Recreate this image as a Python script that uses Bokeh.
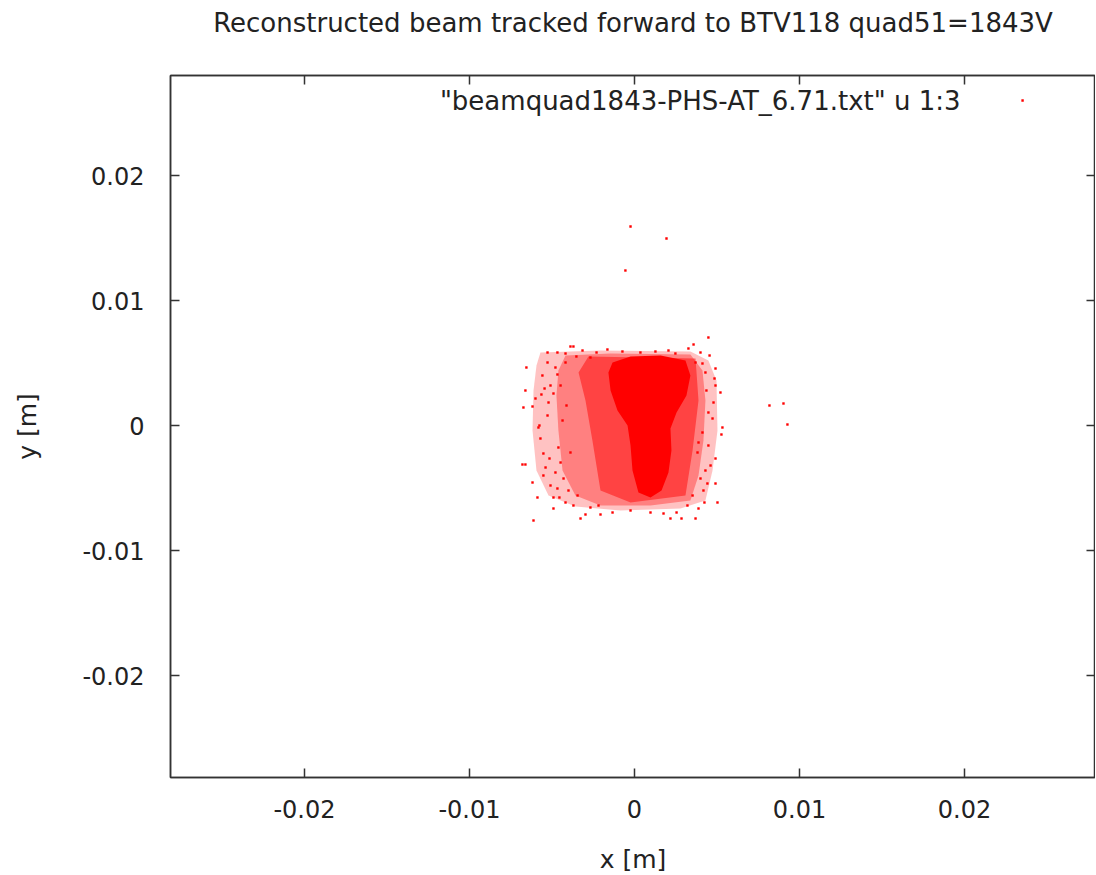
from bokeh.plotting import figure
from bokeh.models import (Range1d, LinearAxis, FixedTicker, CustomJSTickFormatter,
                          ColumnDataSource, Label)
from bokeh.embed import file_html
from bokeh.resources import INLINE

# ---------------- data (metres) ----------------
# individually visible particles (halo and outliers)
halo_x = [-0.00024, 0.00194, -0.00055, 0.00818, 0.00903, 0.00927, 0.00448, 0.00358, 0.00327, 0.00206,
          0.00248, -0.00388, -0.0037, -0.00527, -0.00467, -0.00418, -0.00655, -0.00558, -0.00661, -0.006,
          -0.00564, -0.00673, -0.00618, -0.00545, -0.00576, -0.00527, -0.00521, -0.00491, -0.00527, -0.00479,
          -0.00509, -0.00467, -0.00582, -0.00679, -0.00661, -0.00618, -0.00588, -0.00612, -0.00552, -0.00509,
          -0.00491, -0.00455, -0.0037, -0.00327, -0.00297, -0.00267, -0.00206, -0.00218, -0.00515, -0.00539,
          -0.00479, -0.00448, -0.0057, -0.0043, -0.004, 0.00533, 0.00527, 0.00491, 0.0043, 0.00491,
          0.00442, 0.00424, 0.00503, 0.0037, 0.00285, 0.00218, 0.00176, 0.004, 0.00382, 0.00388,
          0.00412, 0.00352, 0.00321, 0.00491, 0.00485, 0.00521, 0.00479, 0.0043, 0.00412, 0.0037,
          0.00448, 0.00491, 0.00473, -0.00315, -0.0023, -0.00164, -0.00073, 0.00036, 0.00127,
          -0.00461, -0.00388, -0.00552, -0.00467, -0.00345, -0.00418, -0.00491, -0.00436, -0.00412, -0.00448,
          -0.00418, -0.00352, -0.00267, 0.00448, 0.00461, 0.00418, 0.00388, 0.00255, 0.00097, -0.00024,
          -0.00133, 0.00436, 0.00455, 0.004]
halo_y = [0.01592, 0.01496, 0.0124, 0.0016, 0.00176, 0.00008, 0.00704, 0.00648, 0.00616, 0.006,
          0.00576, 0.00632, 0.00632, 0.00584, 0.00584, 0.00576, 0.00464, 0.004, 0.0028, 0.00216,
          0.00248, 0.00144, 0.00152, 0.00296, 0.0, 0.0008, 0.00184, 0.00256, 0.00504, 0.00464,
          0.0032, 0.00408, -0.00016, -0.00312, -0.00312, -0.00456, -0.00576, -0.0076, -0.00224, -0.0048,
          -0.00576, -0.00576, -0.0064, -0.00744, -0.00712, -0.00656, -0.00712, -0.0064, -0.00264, -0.00336,
          -0.00376, -0.00296, -0.00104, -0.00424, -0.0052, -0.00016, -0.00072, -0.00264, -0.0036, -0.00464,
          -0.00464, -0.00616, -0.00616, -0.00744, -0.00744, -0.00744, -0.00704, -0.00424, -0.00216, -0.00136,
          -0.00056, -0.0056, -0.0064, 0.00456, 0.00376, 0.00264, 0.00184, 0.00424, 0.00496, 0.00504,
          0.00104, 0.0032, 0.00056, 0.006, 0.00584, 0.00608, 0.00592, 0.00584, 0.00592,
          -0.00176, -0.00216, -0.004, -0.00504, -0.0056, -0.00616, -0.00664, 0.0004, 0.0016, 0.0032,
          0.00504, 0.00552, 0.00544, -0.0016, -0.0032, -0.0052, -0.00664, -0.00696, -0.00696, -0.0068,
          -0.00696, 0.0028, 0.0056, 0.00584]

# outline of the sparse outer cloud
outer_x = [-0.0057, -0.00206, 0.00339, 0.00448, 0.00497, 0.00503, 0.00473, 0.0043, 0.00279, -0.00085,
           -0.00358, -0.00521, -0.00594, -0.00618, -0.00612, -0.00594]
outer_y = [0.00584, 0.006, 0.00592, 0.0052, 0.0036, -0.0004, -0.0036, -0.006, -0.00664, -0.0068,
           -0.00648, -0.0056, -0.0036, -0.0004, 0.0028, 0.0048]
# outline of the medium-density cloud
mid_x = [-0.00418, -0.00145, 0.00339, 0.00412, 0.0043, 0.00418, 0.00388, 0.00339, 0.00097, -0.00206,
         -0.00358, -0.00436, -0.00461, -0.00473, -0.00461]
mid_y = [0.0056, 0.00576, 0.00568, 0.0044, 0.002, -0.0012, -0.004, -0.006, -0.0064, -0.0064,
         -0.0056, -0.0036, -0.0004, 0.0024, 0.0044]
# outline of the dense cloud
dense_x = [-0.00279, 0.0037, 0.00388, 0.00352, 0.00309, -0.00024, -0.00206, -0.00255, -0.00297, -0.00339]
dense_y = [0.00552, 0.00536, 0.002, -0.002, -0.0056, -0.00616, -0.0052, -0.0012, 0.002, 0.00424]
# outline of the saturated core
core_x = [-0.00133, -0.00024, 0.00158, 0.00309, 0.00339, 0.00315, 0.00255, 0.00218, 0.00224, 0.00206,
          0.00164, 0.00097, 0.00024, -0.00012, -0.00024, -0.00042, -0.00103, -0.00145, -0.00158]
core_y = [0.00504, 0.00552, 0.0056, 0.0052, 0.004, 0.0024, 0.00104, -0.00024, -0.002, -0.00376,
          -0.0052, -0.00576, -0.00536, -0.0036, -0.0016, 0.0, 0.0012, 0.0028, 0.00424]

x_ticks = [-0.02, -0.01, 0.0, 0.01, 0.02]
y_ticks = [-0.02, -0.01, 0.0, 0.01, 0.02]

title_text = "Reconstructed beam tracked forward to BTV118 quad51=1843V"
legend_text = '"beamquad1843-PHS-AT_6.71.txt" u 1:3'
x_label = "x [m]"
y_label = "y [m]"

# ---------------- styling ----------------
RED = "#ff0000"
INK = "#222222"
FRAME = "#333333"
FONT = "DejaVu Sans"
TICK_FS = "24px"

XMIN, XMAX = -0.02812, 0.02794
YMIN, YMAX = -0.02816, 0.028

p = figure(width=1096, height=875, frame_width=925, frame_height=702,
           x_range=Range1d(XMIN, XMAX), y_range=Range1d(YMIN, YMAX),
           output_backend="svg", toolbar_location=None,
           min_border_left=170, min_border_right=0, min_border_top=75, min_border_bottom=98,
           x_axis_label=x_label, y_axis_label=y_label)
p.background_fill_color = "white"
p.border_fill_color = "white"
p.grid.visible = False
p.outline_line_color = FRAME
p.outline_line_width = 1.5
p.title.visible = False

fmt = CustomJSTickFormatter(code="return tick == 0 ? '0' : tick.toFixed(2);")
blank = CustomJSTickFormatter(code="return '';")

def style_axis(ax, labels=True):
    ax.axis_line_color = FRAME
    ax.axis_line_width = 1.5
    ax.major_tick_line_color = FRAME
    ax.major_tick_line_width = 1.5
    ax.major_tick_in = 9
    ax.major_tick_out = 0
    ax.minor_tick_line_color = None
    ax.major_label_text_font = FONT
    ax.major_label_text_color = INK
    ax.axis_label_text_font = FONT
    ax.axis_label_text_font_style = "normal"
    ax.axis_label_text_color = INK
    ax.axis_label_text_font_size = "25px"
    if labels:
        ax.major_label_text_font_size = TICK_FS
        ax.formatter = fmt
    else:
        ax.formatter = blank
        ax.major_label_text_color = None
        ax.major_label_standoff = 0

p.xaxis.ticker = FixedTicker(ticks=x_ticks)
p.yaxis.ticker = FixedTicker(ticks=y_ticks)
style_axis(p.xaxis[0])
style_axis(p.yaxis[0])
p.xaxis.major_label_standoff = 22
p.yaxis.major_label_standoff = 26
p.xaxis.axis_label_standoff = 24
p.yaxis.axis_label_standoff = 37

# top axis carries the mirrored ticks and the chart title
top_ax = LinearAxis(ticker=FixedTicker(ticks=x_ticks), axis_label=title_text)
right_ax = LinearAxis(ticker=FixedTicker(ticks=y_ticks))
style_axis(top_ax, labels=False)
style_axis(right_ax, labels=False)
top_ax.axis_label_text_font_size = "26px"
top_ax.axis_label_standoff = 38
p.add_layout(top_ax, "above")
p.add_layout(right_ax, "right")

# clouds
p.patch(outer_x, outer_y, fill_color=RED, fill_alpha=0.24, line_alpha=0)
p.patch(mid_x, mid_y, fill_color=RED, fill_alpha=0.34, line_alpha=0)
p.patch(dense_x, dense_y, fill_color=RED, fill_alpha=0.48, line_alpha=0)
p.patch(core_x, core_y, fill_color=RED, fill_alpha=1.0, line_alpha=0)

src = ColumnDataSource(data=dict(x=halo_x, y=halo_y))
p.scatter("x", "y", source=src, marker="square", size=2.4, fill_color=RED, line_alpha=0)

# legend (gnuplot style: text then sample on the right)
leg_y = 0.026
p.add_layout(Label(x=0.01976, y=leg_y, text=legend_text, text_align="right",
                   text_baseline="middle", text_font=FONT, text_font_size="26px",
                   text_color=INK))
p.scatter([0.02352], [leg_y], marker="square", size=2.4, fill_color=RED, line_alpha=0)

open("out.html", "w").write(file_html(p, INLINE))
